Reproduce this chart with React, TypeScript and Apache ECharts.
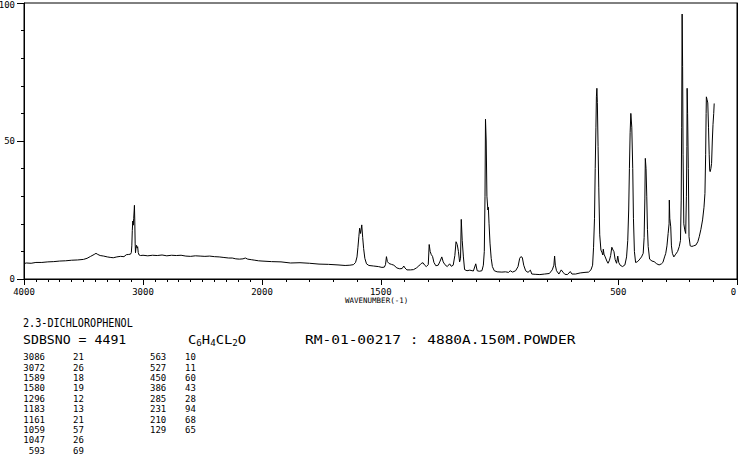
import React, { useEffect, useRef } from "react";
import * as echarts from "echarts";

// Raman spectrum of 2,3-dichlorophenol (SDBS), intensity vs wavenumber (cm-1)
// High region, 4000-2000 cm-1 (compressed scale)
const highWn = [4000, 3980, 3940, 3900, 3850, 3800, 3750, 3700, 3650, 3600, 3550, 3500, 3470, 3440, 3410, 3395, 3380, 3360, 3330, 3300, 3270, 3250, 3220, 3190, 3160, 3140, 3120, 3105, 3098, 3094, 3090, 3086, 3082, 3078, 3074, 3072, 3069, 3066, 3063, 3059, 3054, 3050, 3045, 3040, 3033, 3020, 3000, 2960, 2920, 2880, 2840, 2800, 2760, 2720, 2680, 2640, 2600, 2560, 2520, 2480, 2440, 2400, 2360, 2320, 2280, 2250, 2220, 2190, 2160, 2140, 2120, 2090, 2060, 2030, 2000];
const highInt = [5.6, 5.8, 5.7, 6.0, 6.0, 6.2, 6.3, 6.5, 6.6, 6.8, 6.9, 7.1, 7.5, 8.2, 8.9, 9.3, 8.9, 8.5, 8.3, 8.0, 7.8, 7.7, 8.0, 8.2, 8.1, 8.8, 8.9, 9.0, 9.6, 12, 17.5, 21, 19.5, 22, 25, 26.7, 21, 13, 9.5, 11.5, 12.2, 11.2, 11.7, 9.6, 8.7, 8.5, 8.6, 8.4, 8.6, 8.5, 8.7, 8.4, 8.6, 8.5, 8.6, 8.3, 8.2, 8.4, 8.3, 8.2, 8.3, 8.1, 8.0, 7.8, 7.6, 7.6, 7.3, 7.2, 7.3, 7.6, 7.2, 7.0, 6.8, 6.6, 6.5];

// Low region, 2000-96 cm-1
const lowWn = [2000, 1960, 1920, 1880, 1840, 1800, 1760, 1720, 1680, 1650, 1630, 1615, 1606, 1600, 1596, 1592, 1589, 1585, 1580, 1576, 1572, 1567, 1560, 1550, 1530, 1510, 1495, 1485, 1480, 1476, 1472, 1465, 1455, 1445, 1432, 1420, 1410, 1403, 1398, 1390, 1375, 1362, 1350, 1340, 1330, 1322, 1315, 1308, 1300, 1296, 1292, 1287, 1282, 1276, 1268, 1258, 1250, 1243, 1237, 1230, 1220, 1210, 1203, 1195, 1188, 1183, 1178, 1173, 1168, 1164, 1161, 1157, 1152, 1147, 1137, 1125, 1110, 1100, 1094, 1085, 1074, 1068, 1064, 1061, 1059, 1056, 1053, 1049, 1047, 1044, 1040, 1035, 1030, 1022, 1010, 990, 975, 962, 955, 945, 932, 922, 915, 910, 904, 898, 890, 880, 870, 864, 850, 830, 810, 790, 778, 771, 768, 765, 760, 750, 740, 733, 725, 714, 702, 695, 680, 660, 640, 625, 615, 608, 604, 600, 597, 594, 592, 590, 588, 585, 582, 578, 573, 568, 565, 563, 560, 555, 548, 543, 537, 532, 527, 522, 518, 513, 507, 502, 498, 492, 482, 472, 465, 460, 456, 453, 450, 447, 443, 439, 436, 432, 427, 420, 412, 402, 395, 391, 388, 386, 383, 380, 377, 374, 368, 358, 349, 338, 328, 318, 312, 305, 300, 295, 290, 286, 285, 283, 279, 276, 272, 266, 258, 250, 243, 238, 235, 233, 231, 229, 227, 224, 220, 216, 213, 211, 210, 208, 205, 202, 197, 190, 183, 173, 165, 159, 152, 145, 139, 135, 132, 130, 129, 126, 123, 120, 117, 115, 113, 110, 107, 104, 101, 98, 96];
const lowInt = [6.5, 6.3, 6.2, 5.8, 5.9, 5.7, 5.4, 5.3, 5.1, 4.9, 5.0, 5.2, 6.0, 8.0, 11.5, 15.5, 18.4, 16.5, 19.6, 15.0, 11.0, 7.5, 5.5, 4.9, 4.7, 4.5, 4.2, 4.3, 5.2, 8.1, 6.3, 5.6, 5.3, 5.0, 4.0, 3.7, 3.8, 4.7, 4.0, 3.3, 3.3, 3.4, 4.0, 4.7, 5.6, 5.9, 5.0, 4.5, 5.2, 12.5, 10.0, 8.8, 8.2, 6.0, 4.8, 5.0, 6.5, 8.0, 6.2, 5.2, 4.5, 5.5, 4.6, 5.0, 8.5, 13.5, 12.5, 10.0, 6.2, 7.5, 21.6, 14, 8, 3.4, 3.0, 3.2, 2.9, 5.5, 3.0, 2.8, 3.0, 5.0, 10.0, 30, 57.9, 50, 30, 25, 26, 20, 13, 7.5, 4.5, 3.0, 2.6, 2.5, 2.6, 2.4, 3.0, 2.5, 3.0, 4.5, 7.5, 8.1, 7.8, 5.0, 3.0, 2.4, 3.2, 1.8, 1.7, 1.6, 1.8, 2.0, 3.3, 5.0, 8.3, 5.0, 3.0, 1.8, 3.3, 2.5, 1.7, 1.6, 2.7, 1.8, 1.8, 2.2, 2.4, 2.5, 3.3, 5.0, 11.5, 22, 40, 55, 66, 69.1, 64, 48, 33, 16, 10.5, 9.5, 8.7, 10.8, 9.0, 8.0, 6.5, 5.7, 6.8, 8.5, 11.5, 10.5, 9.9, 7.0, 5.7, 8.3, 6.0, 5.0, 4.5, 5.1, 8.0, 14, 25, 40, 53, 60, 55, 40, 22, 10, 6.0, 6.2, 6.9, 8.0, 9.3, 15, 29, 43.7, 40, 30, 18, 11.8, 7.2, 6.5, 6.3, 5.5, 5.1, 5.5, 6.0, 8.0, 9.3, 12, 16.5, 20, 28.6, 22, 18.9, 12, 9.3, 8.0, 9.0, 10.0, 11.8, 14, 28.6, 55, 96, 77, 45, 20, 17.8, 16.5, 30, 48, 69.1, 60, 40, 15.3, 12, 11.8, 12, 12.3, 13.5, 15.3, 18, 21.4, 26, 31, 45, 60, 66, 65, 63.8, 55, 45, 39.5, 38.9, 40, 41.9, 50, 56, 60, 63.6];

// Axis labels
const highTickLabels = [4000, 3000, 2000];
const lowTickLabels = [1500, 500, 0];
const yTickLabels = [0, 50, 100];

// Peak table
const peakWn1 = ["3086", "3072", "1589", "1580", "1296", "1183", "1161", "1059", "1047", "593"];
const peakInt1 = ["21", "26", "18", "19", "12", "13", "21", "57", "26", "69"];
const peakWn2 = ["563", "527", "450", "386", "285", "231", "210", "129"];
const peakInt2 = ["10", "11", "60", "43", "28", "94", "68", "65"];

const compoundName = "2.3-DICHLOROPHENOL";
const sdbsNo = "SDBSNO = 4491";
const sampleInfo = "RM-01-00217 : 4880A.150M.POWDER";

const FONT = "DejaVu Sans Mono";

export default function App() {
  const ref = useRef<HTMLDivElement>(null);
  useEffect(() => {
    if (!ref.current) return;
    const chart = echarts.init(ref.current, null, { renderer: "svg" });
    const highData = highWn.map((w, i) => [w, highInt[i]]);
    const lowData = lowWn.map((w, i) => [w, lowInt[i]]);
    const black = "#000";
    const lbl = { color: black, fontFamily: FONT, fontSize: 9, formatter: (v: number) => String(v) };
    const line = { show: true, onZero: false, lineStyle: { color: black, width: 1 } };
    const off = { show: false };

    const option: any = {
      animation: false,
      backgroundColor: "#fff",
      grid: [
        { left: 24, top: 3, width: 238, height: 276, outerBoundsMode: "none", containLabel: false },
        { left: 262, top: 3, width: 475, height: 276, outerBoundsMode: "none", containLabel: false },
        // frame around the whole plot
        { left: 24, top: 3, width: 713, height: 276, outerBoundsMode: "none", containLabel: false, show: true, borderColor: black, borderWidth: 1, backgroundColor: "transparent" },
      ],
      xAxis: [
        {
          type: "value", gridIndex: 0, min: 2000, max: 4000, interval: 100, inverse: true, position: "bottom",
          axisLine: line, axisTick: { show: true, length: 3, lineStyle: { color: black } },
          axisLabel: off, splitLine: off,
        },
        {
          type: "value", gridIndex: 0, min: 2000, max: 4000, interval: 1000, inverse: true, position: "bottom",
          axisLine: { show: false, onZero: false },
          axisTick: { show: true, length: 6, customValues: highTickLabels, lineStyle: { color: black } },
          axisLabel: { show: true, margin: 8, customValues: highTickLabels, ...lbl },
          splitLine: off,
        },
        {
          type: "value", gridIndex: 1, min: 0, max: 2000, interval: 100, inverse: true, position: "bottom",
          axisLine: line, axisTick: { show: true, length: 3, lineStyle: { color: black } },
          axisLabel: off, splitLine: off,
        },
        {
          type: "value", gridIndex: 1, min: 0, max: 2000, interval: 500, inverse: true, position: "bottom",
          axisLine: { show: false, onZero: false },
          axisTick: { show: true, length: 6, customValues: lowTickLabels, lineStyle: { color: black } },
          axisLabel: {
            show: true, margin: 8, customValues: lowTickLabels, ...lbl,
            formatter: (v: number) => (v === 0 ? "{r|0}" : String(v)),
            rich: { r: { fontFamily: FONT, fontSize: 9, color: black, padding: [0, 7, 0, 0] } },
          },
          splitLine: off,
        },
        { type: "value", gridIndex: 2, min: 0, max: 1, show: false },
      ],
      yAxis: [
        {
          type: "value", gridIndex: 0, min: 0, max: 100, interval: 10, position: "left",
          axisLine: line, axisTick: { show: true, length: 3, lineStyle: { color: black } },
          axisLabel: off, splitLine: off,
        },
        {
          type: "value", gridIndex: 0, min: 0, max: 100, interval: 50, position: "left",
          axisLine: { show: false, onZero: false },
          axisTick: { show: true, length: 7, lineStyle: { color: black } },
          axisLabel: {
            show: true, margin: 9, ...lbl,
            formatter: (v: number) => (v === 100 ? "{t|100}" : yTickLabels.includes(v) ? String(v) : ""),
            rich: { t: { fontFamily: FONT, fontSize: 9, color: black, padding: [3, 0, 0, 0] } },
          },
          splitLine: off,
        },
        {
          type: "value", gridIndex: 1, min: 0, max: 100, position: "right",
          axisLine: line, axisTick: off, axisLabel: off, splitLine: off,
        },
        { type: "value", gridIndex: 2, min: 0, max: 1, show: false },
      ],
      series: [
        {
          type: "line", xAxisIndex: 0, yAxisIndex: 0, data: highData, showSymbol: false,
          lineStyle: { color: black, width: 1 }, silent: true,
        },
        {
          type: "line", xAxisIndex: 2, yAxisIndex: 2, data: lowData, showSymbol: false,
          lineStyle: { color: black, width: 1 }, silent: true,
        },
      ],
      graphic: [
        { type: "text", x: 345, y: 300, style: { text: "WAVENUMBER(-1)", font: `7.5px ${FONT}`, fill: black, verticalAlign: "middle" } },
        { type: "text", x: 23, y: 323, scaleX: 0.845, style: { text: compoundName, font: `12px ${FONT}`, fill: black, verticalAlign: "middle" } },
        { type: "text", x: 23, y: 340, scaleX: 1.1, style: { text: sdbsNo, font: `12px ${FONT}`, fill: black, verticalAlign: "middle" } },
        {
          type: "text", x: 188, y: 340, scaleX: 1.15,
          style: {
            text: "{n|C}{s|6}{n|H}{s|4}{n|CL}{s|2}{n|O}",
            fill: black, verticalAlign: "middle",
            rich: {
              n: { font: `12px ${FONT}`, fill: black },
              s: { font: `8px ${FONT}`, fill: black, padding: [7, 0, 0, 0] },
            },
          },
        },
        { type: "text", x: 305, y: 340, scaleX: 1.21, style: { text: sampleInfo, font: `12px ${FONT}`, fill: black, verticalAlign: "middle" } },
        { type: "text", x: 45, y: 352, style: { text: peakWn1.join("\n"), font: `9px ${FONT}`, lineHeight: 10.4, fill: black, align: "right" } },
        { type: "text", x: 73, y: 352, style: { text: peakInt1.join("\n"), font: `9px ${FONT}`, lineHeight: 10.4, fill: black } },
        { type: "text", x: 150, y: 352, style: { text: peakWn2.join("\n"), font: `9px ${FONT}`, lineHeight: 10.4, fill: black } },
        { type: "text", x: 185, y: 352, style: { text: peakInt2.join("\n"), font: `9px ${FONT}`, lineHeight: 10.4, fill: black } },
      ],
    };
    chart.setOption(option);
    return () => chart.dispose();
  }, []);
  return (
    <div
      ref={ref}
      style={{ position: "fixed", left: 0, top: 0, width: 738, height: 457, background: "#fff" }}
    />
  );
}
